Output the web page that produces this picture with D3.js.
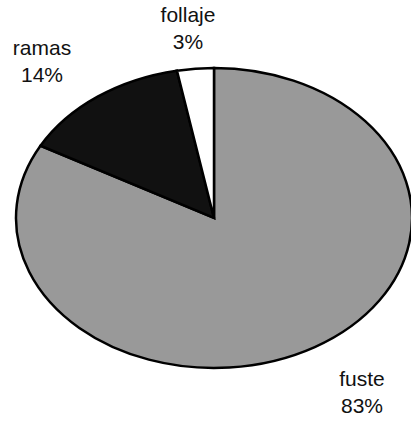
<!DOCTYPE html>
<html><head><meta charset="utf-8">
<script src="https://cdn.jsdelivr.net/npm/d3@7"></script>
<style>body{margin:0;background:#fff}</style></head>
<body><svg id="c" width="411" height="421"></svg>
<script>
const categories = ["fuste", "ramas", "follaje"];
const values = [83, 14, 3];
const labels = ["83%", "14%", "3%"];
const colors = ["#999999", "#111111", "#ffffff"];

const svg = d3.select("#c");
const cx = 214, cy = 218, rx = 198, ry = 150;
const pie = d3.pie().sort(null).value(d => d)(values);
const arc = d3.arc().innerRadius(0).outerRadius(rx);
const g = svg.append("g").attr("transform", `translate(${cx},${cy}) scale(1,${ry/rx})`);
g.selectAll("path").data(pie).join("path")
  .attr("d", arc).attr("fill", (d,i) => colors[i])
  .attr("stroke", "#000").attr("stroke-width", 2.5).attr("vector-effect","non-scaling-stroke");

const labelPos = [[362, 386], [42, 55], [188, 22]];
labelPos.forEach((p, i) => {
  const t = svg.append("text").attr("x", p[0]).attr("y", p[1]).attr("text-anchor", "middle")
    .attr("font-family", "Liberation Sans, Arial, sans-serif").attr("font-size", 21).attr("fill", "#111");
  t.append("tspan").attr("x", p[0]).text(categories[i]);
  t.append("tspan").attr("x", p[0]).attr("dy", 27).text(labels[i]);
});
</script></body></html>
